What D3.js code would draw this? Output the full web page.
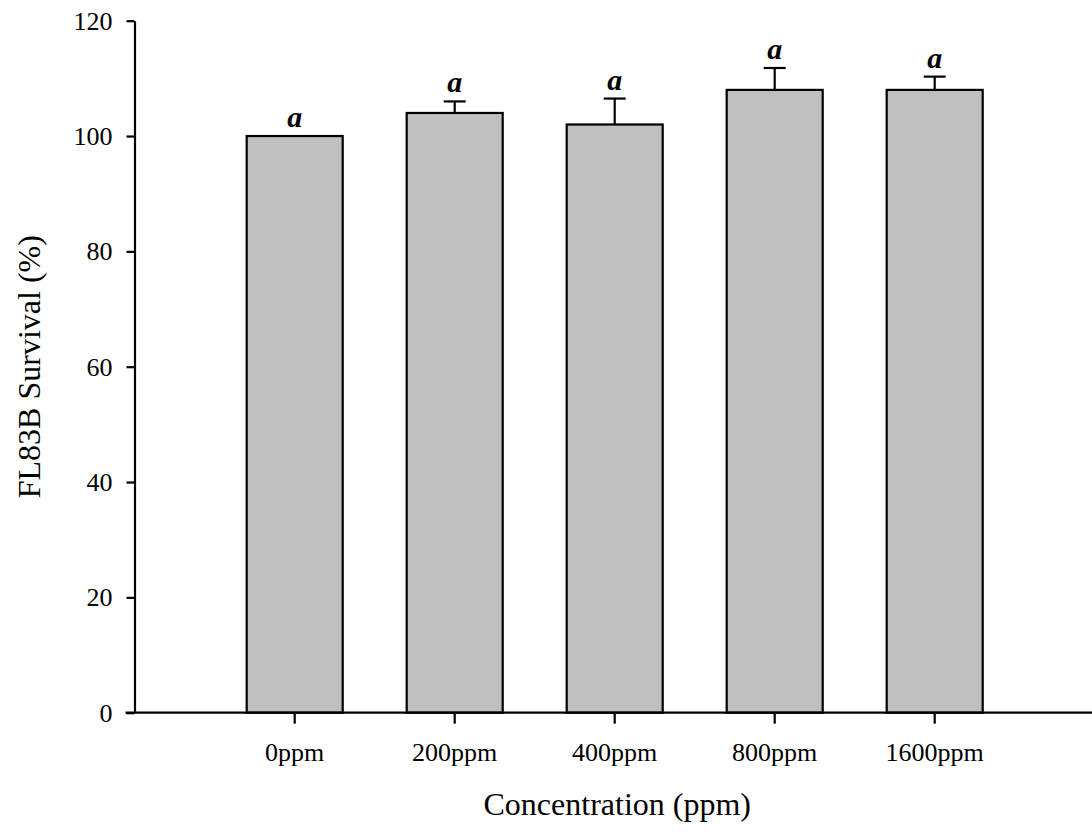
<!DOCTYPE html>
<html>
<head>
<meta charset="utf-8">
<script src="https://cdn.jsdelivr.net/npm/d3@7"></script>
<style>
  body { margin: 0; background: #fff; }
  svg { display: block; font-family: "Liberation Serif", "Times New Roman", serif; }
</style>
</head>
<body>
<svg id="chart" width="1092" height="832"></svg>
<script>
// FL83B survival by concentration
const categories = ["0ppm", "200ppm", "400ppm", "800ppm", "1600ppm"];
const survival   = [100, 104, 102, 108, 108];
const errors     = [0, 2.0, 4.5, 3.8, 2.3];
const letters    = ["a", "a", "a", "a", "a"];
const yTicks     = [0, 20, 40, 60, 80, 100, 120];

const svg = d3.select("#chart");
const plotLeft = 134.5, plotTop = 20.7, plotBottom = 712.7, plotRight = 1092;

const x = d3.scaleBand()
  .domain(categories)
  .range([214.7, 1014.7])
  .paddingInner(0.4)
  .paddingOuter(0.2);

const y = d3.scaleLinear().domain([0, 120]).range([plotBottom, plotTop]);

// bars
svg.append("g").selectAll("rect")
  .data(categories)
  .join("rect")
  .attr("x", d => x(d))
  .attr("width", x.bandwidth())
  .attr("y", (d, i) => y(survival[i]))
  .attr("height", (d, i) => y(0) - y(survival[i]))
  .attr("fill", "#c0c0c0")
  .attr("stroke", "#000")
  .attr("stroke-width", 2.2);

// error bars (upper only)
const eb = svg.append("g").attr("stroke", "#000").attr("stroke-width", 2.2);
categories.forEach((c, i) => {
  if (errors[i] <= 0) return;
  const cx = x(c) + x.bandwidth() / 2;
  eb.append("line")
    .attr("x1", cx).attr("x2", cx)
    .attr("y1", y(survival[i])).attr("y2", y(survival[i] + errors[i]));
  eb.append("line")
    .attr("x1", cx - 11).attr("x2", cx + 11)
    .attr("y1", y(survival[i] + errors[i])).attr("y2", y(survival[i] + errors[i]));
});

// significance letters
svg.append("g").selectAll("text")
  .data(categories)
  .join("text")
  .attr("x", d => x(d) + x.bandwidth() / 2)
  .attr("y", (d, i) => y(survival[i] + errors[i]) - 9)
  .attr("text-anchor", "middle")
  .attr("font-size", 30)
  .attr("font-weight", "bold")
  .attr("font-style", "italic")
  .attr("fill", "#000")
  .text((d, i) => letters[i]);

// y axis
const yAxis = svg.append("g")
  .attr("transform", `translate(${plotLeft},0)`)
  .call(d3.axisLeft(y).tickValues(yTicks).tickSize(8).tickSizeOuter(0).tickPadding(14));
yAxis.select(".domain").attr("stroke-width", 2.2);
yAxis.selectAll(".tick line").attr("stroke-width", 2.2);
yAxis.selectAll(".tick text")
  .attr("font-size", 26)
  .attr("font-family", "Liberation Serif, Times New Roman, serif")
  .attr("fill", "#000");

// x axis baseline
svg.append("line")
  .attr("x1", plotLeft - 9).attr("x2", plotRight)
  .attr("y1", plotBottom).attr("y2", plotBottom)
  .attr("stroke", "#000").attr("stroke-width", 2.2);

const xAxis = svg.append("g")
  .attr("transform", `translate(0,${plotBottom})`)
  .call(d3.axisBottom(x).tickSize(11).tickSizeOuter(0).tickPadding(19));
xAxis.select(".domain").remove();
xAxis.selectAll(".tick line").attr("stroke-width", 2.2);
xAxis.selectAll(".tick text")
  .attr("font-size", 26)
  .attr("font-family", "Liberation Serif, Times New Roman, serif")
  .attr("fill", "#000");

// axis titles
svg.append("text")
  .attr("x", (plotLeft + plotRight) / 2 + 4)
  .attr("y", 815)
  .attr("text-anchor", "middle")
  .attr("font-size", 32)
  .attr("fill", "#000")
  .text("Concentration (ppm)");

svg.append("text")
  .attr("transform", `translate(40,${(plotTop + plotBottom) / 2}) rotate(-90)`)
  .attr("text-anchor", "middle")
  .attr("font-size", 32)
  .attr("fill", "#000")
  .text("FL83B Survival (%)");
</script>
</body>
</html>
